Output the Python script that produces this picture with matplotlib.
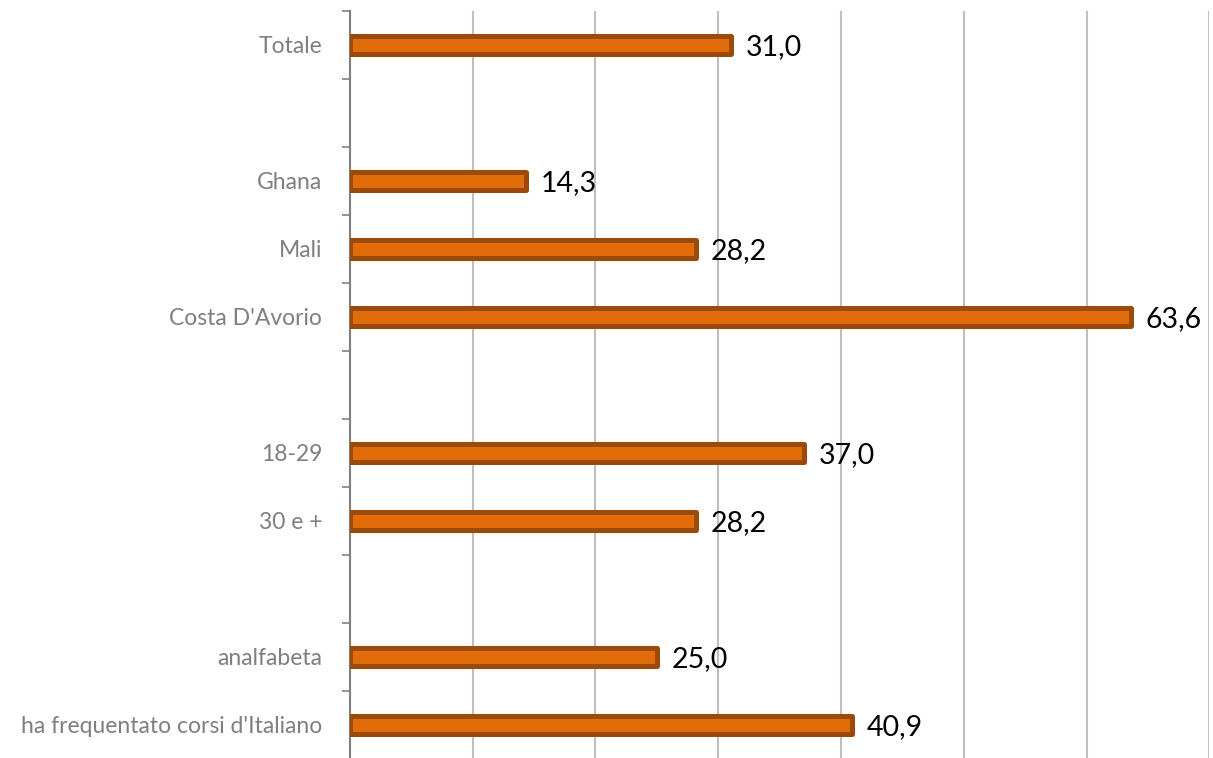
import matplotlib
matplotlib.use("Agg")
import matplotlib.pyplot as plt

categories = ["Totale", "", "Ghana", "Mali", "Costa D'Avorio", "", "18-29", "30 e +", "",
              "analfabeta", "ha frequentato corsi d'Italiano"]
values = [31.0, None, 14.3, 28.2, 63.6, None, 37.0, 28.2, None, 25.0, 40.9]

plt.rcParams['font.family'] = ['Lato', 'DejaVu Sans']

fig = plt.figure(figsize=(12.13, 7.58), dpi=100)
ax = fig.add_axes([0.2885, -0.001, 0.997 - 0.2885, 0.9855 + 0.001])

n = len(categories)
ypos = list(range(n))
for y, v in zip(ypos, values):
    if v is None:
        continue
    ax.barh(y, v, height=0.265, color='#E36C0A', edgecolor='#9C4A0A', linewidth=3.6,
            joinstyle='round', zorder=3)
    ax.text(v + 1.2, y + 0.03, f"{v:.1f}".replace('.', ','), va='center', ha='left',
            fontsize=20.5, color='black')

ax.set_ylim(n - 0.5, -0.5)
ax.set_xlim(0, 70)
ax.set_yticks(ypos)
ax.set_yticklabels(categories, fontsize=16.5, color='#7F7F7F')
ax.tick_params(axis='y', length=0, pad=20)
# boundary tick marks
ax.set_yticks([i - 0.5 for i in range(n + 1)], minor=True)
ax.tick_params(axis='y', which='minor', length=6, color='#808080', width=1.2)
ax.set_xticks(range(0, 71, 10))
ax.tick_params(axis='x', length=0, labelbottom=False)
ax.xaxis.grid(True, color='#BFBFBF', linewidth=1.5, zorder=0)
ax.set_axisbelow(True)
for s in ['top', 'right', 'bottom']:
    ax.spines[s].set_visible(False)
ax.spines['left'].set_color('#808080')
ax.spines['left'].set_linewidth(1.5)

fig.savefig("out.png", dpi=100)
